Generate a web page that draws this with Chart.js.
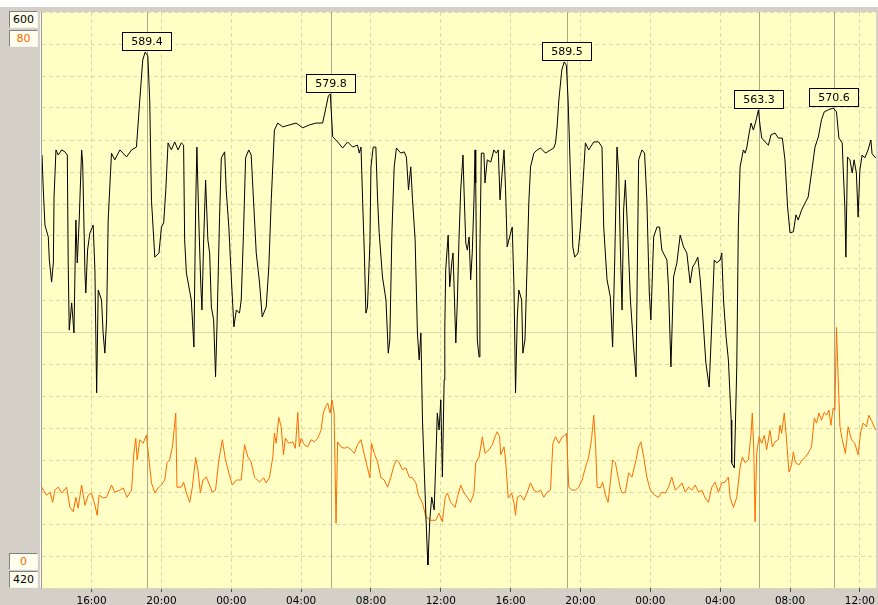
<!DOCTYPE html>
<html>
<head>
<meta charset="utf-8">
<script src="https://cdn.jsdelivr.net/npm/chart.js@4/dist/chart.umd.min.js"></script>
<style>
  body { margin: 0; width: 878px; height: 605px; overflow: hidden; position: relative; background: #D4D0C8; font-family: 'DejaVu Sans', sans-serif; }
  #topStrip { position: absolute; left: 0; top: 0; width: 878px; height: 7px; background: #fff; }
  #c { position: absolute; left: 0; top: 0; }
  .axisBox { position: absolute; left: 9px; width: 27px; height: 15px; line-height: 15px; font-size: 11px; text-align: center;
             background: #FFFFEE; border: 1px solid; border-color: #808080 #F4F4F4 #F4F4F4 #808080; }
  .black { color: #000; }
  .orange { color: #FF6600; }
</style>
</head>
<body>
<div id="topStrip"></div>
<canvas id="c" width="878" height="605"></canvas>
<div class="axisBox black" style="top:11px">600</div>
<div class="axisBox orange" style="top:30px">80</div>
<div class="axisBox orange" style="top:553px">0</div>
<div class="axisBox black" style="top:571px">420</div>
<script>
// time in hours from midnight of day 1
const xTicks = [16, 20, 24, 28, 32, 36, 40, 44, 48, 52, 56, 60];

const blackTime = [13.16,13.23,13.33,13.52,13.58,13.71,13.81,13.85,13.96,14.09,14.29,14.47,14.61,14.66,14.72,14.86,14.99,15.10,15.18,15.29,15.43,15.49,15.62,15.67,15.77,15.90,16.09,16.19,16.29,16.38,16.57,16.66,16.76,16.86,16.95,17.14,17.33,17.62,18.00,18.29,18.57,18.76,18.93,19.07,19.22,19.33,19.43,19.62,19.86,20.00,20.13,20.25,20.38,20.57,20.76,20.95,21.14,21.27,21.33,21.43,21.71,21.86,21.96,22.03,22.15,22.25,22.32,22.42,22.53,22.66,22.76,22.86,22.99,23.10,23.18,23.33,23.43,23.62,23.71,23.86,24.00,24.15,24.29,24.47,24.57,24.70,24.82,25.00,25.14,25.43,25.62,25.77,26.00,26.15,26.29,26.47,26.66,26.95,27.33,27.71,28.09,28.47,28.86,29.23,29.43,29.56,29.67,29.81,30.09,30.38,30.66,30.95,31.23,31.33,31.43,31.52,31.62,31.71,31.80,31.94,32.00,32.13,32.28,32.38,32.47,32.66,32.86,32.99,33.08,33.20,33.33,33.46,33.71,33.90,34.03,34.15,34.28,34.38,34.53,34.66,34.76,34.86,34.95,35.14,35.23,35.26,35.37,35.48,35.62,35.71,35.80,35.90,36.00,36.09,36.19,36.23,36.28,36.42,36.51,36.63,36.70,36.86,36.95,37.04,37.14,37.27,37.33,37.43,37.52,37.62,37.71,37.80,37.90,37.96,38.00,38.09,38.19,38.24,38.32,38.47,38.53,38.66,38.86,39.04,39.18,39.29,39.39,39.48,39.62,39.71,39.80,39.94,40.09,40.19,40.28,40.38,40.47,40.63,40.70,40.82,40.95,41.04,41.14,41.33,41.52,41.71,42.00,42.28,42.47,42.57,42.66,42.76,42.93,43.07,43.19,43.29,43.43,43.56,43.67,43.86,44.00,44.13,44.28,44.47,44.76,45.04,45.23,45.33,45.52,45.71,45.84,45.96,46.09,46.19,46.28,46.38,46.47,46.57,46.72,46.86,47.04,47.18,47.33,47.52,47.67,47.80,47.94,48.03,48.19,48.38,48.53,48.66,48.95,49.04,49.18,49.33,49.52,49.71,49.90,50.09,50.28,50.42,50.57,50.72,50.86,50.99,51.18,51.37,51.52,51.66,51.80,52.00,52.09,52.19,52.34,52.47,52.63,52.66,52.81,52.86,52.95,53.04,53.14,53.33,53.43,53.52,53.66,53.77,53.90,54.03,54.19,54.28,54.38,54.57,54.76,54.91,55.14,55.33,55.56,55.71,55.86,56.00,56.19,56.34,56.47,56.66,56.86,57.04,57.23,57.43,57.62,57.80,57.96,58.19,58.47,58.66,58.80,58.99,59.04,59.14,59.20,59.29,59.43,59.56,59.67,59.80,59.90,60.00,60.13,60.28,60.47,60.63,60.70,60.91];
const blackValue = [555.3,545.0,533.4,529.7,522.5,515.6,521.6,542.2,556.9,555.3,556.9,556.3,555.3,521.6,500.6,509.1,499.7,535.0,521.6,535.0,556.9,552.8,518.4,512.2,525.6,530.9,533.4,519.4,481.0,513.1,510.0,499.7,493.4,503.8,535.0,555.9,553.8,556.9,554.7,556.9,557.8,572.5,585.0,587.5,586.3,572.5,541.2,523.4,524.7,532.8,534.1,544.4,559.1,556.9,559.4,556.9,559.1,558.4,528.8,518.4,510.0,495.3,539.1,557.8,532.8,515.3,506.9,528.8,547.5,528.8,524.7,507.8,503.8,486.0,501.6,536.0,554.4,556.3,544.4,532.8,517.2,501.6,506.9,505.9,510.0,531.0,554.4,556.9,555.3,524.7,515.3,504.7,507.8,520.3,541.3,563.1,565.3,564.1,564.7,565.3,563.8,564.7,565.3,565.3,570.3,573.8,574.4,561.0,559.4,557.5,559.4,557.8,558.4,555.9,557.8,541.3,524.7,505.9,507.8,527.8,551.6,557.8,557.8,541.3,531.0,517.2,510.0,493.4,497.5,531.0,551.6,557.5,555.9,556.3,554.7,544.4,551.6,541.3,528.8,499.7,491.3,499.7,472.5,443.4,430.9,427.2,441.3,448.4,444.4,459.1,474.7,469.4,478.8,454.7,485.0,501.6,519.4,530.3,514.1,521.6,524.7,496.6,510.0,528.8,544.4,555.3,544.4,527.8,525.6,529.7,516.3,524.7,541.3,556.9,546.6,497.5,492.2,525.6,555.9,555.9,546.6,553.8,553.1,556.9,555.9,556.9,541.3,547.5,556.9,544.4,526.6,529.7,532.8,514.1,481.0,504.7,513.1,510.0,493.4,497.5,522.5,540.3,551.6,555.9,556.9,557.5,555.9,556.9,557.5,559.1,564.1,572.5,581.9,584.4,583.4,572.5,548.4,526.6,523.4,524.7,532.8,545.3,559.1,556.9,559.4,559.4,557.8,532.8,516.3,510.9,495.3,522.5,557.8,549.7,526.6,506.9,538.1,547.5,528.8,510.0,495.3,486.0,553.8,556.9,555.9,541.3,512.2,503.8,529.7,532.8,532.8,525.6,522.5,514.1,489.1,517.2,521.6,530.3,526.6,524.7,515.3,520.3,521.6,523.4,516.3,505.9,490.3,482.8,502.8,522.5,521.6,522.5,524.7,510.0,498.4,491.3,472.5,459.1,457.5,468.4,489.1,532.8,551.6,556.9,555.9,557.5,562.2,565.3,563.1,565.6,569.4,564.7,560.6,559.4,558.4,561.6,562.2,560.6,560.6,553.8,539.1,531.0,531.3,536.6,535.0,538.1,540.3,542.2,549.7,557.8,560.9,566.3,568.8,569.4,570.0,568.8,560.6,559.1,551.6,539.1,523.4,554.7,553.8,549.7,553.8,549.7,535.9,550.6,555.3,554.4,556.9,560.0,555.7,554.4];

const orangeTime = [13.16,13.23,13.43,13.62,13.77,13.90,14.09,14.29,14.57,14.76,14.95,15.10,15.23,15.43,15.62,15.81,16.00,16.19,16.32,16.43,16.66,16.86,17.14,17.33,17.62,17.81,18.03,18.29,18.42,18.53,18.61,18.76,18.95,19.14,19.29,19.43,19.62,19.81,20.00,20.19,20.32,20.47,20.63,20.82,20.89,21.14,21.27,21.43,21.62,21.77,21.96,22.09,22.23,22.38,22.57,22.76,22.91,23.10,23.29,23.49,23.67,23.86,24.06,24.29,24.57,24.76,24.95,25.14,25.33,25.62,25.85,26.00,26.19,26.38,26.47,26.57,26.72,26.86,26.99,27.10,27.29,27.52,27.67,27.81,27.90,28.00,28.19,28.38,28.57,28.76,28.95,29.14,29.27,29.39,29.52,29.66,29.77,29.89,30.00,30.09,30.28,30.47,30.66,30.86,31.05,31.23,31.43,31.62,31.80,31.94,32.03,32.19,32.38,32.57,32.76,32.95,33.14,33.33,33.46,33.62,33.80,34.00,34.19,34.38,34.57,34.72,34.95,35.14,35.43,35.71,35.90,36.09,36.25,36.38,36.57,36.82,36.95,37.14,37.33,37.52,37.71,37.90,38.00,38.19,38.38,38.53,38.76,38.95,39.10,39.23,39.37,39.43,39.62,39.71,39.86,40.06,40.19,40.28,40.38,40.57,40.76,40.95,41.14,41.33,41.52,41.71,41.90,42.09,42.28,42.42,42.57,42.76,42.95,43.10,43.20,43.33,43.52,43.71,43.90,44.09,44.28,44.47,44.63,44.76,44.86,44.95,45.14,45.27,45.43,45.58,45.71,45.84,46.00,46.15,46.28,46.38,46.57,46.76,46.95,47.18,47.33,47.46,47.62,47.80,48.00,48.24,48.47,48.66,48.86,49.04,49.23,49.43,49.62,49.81,50.00,50.19,50.38,50.57,50.76,50.95,51.14,51.33,51.52,51.71,51.90,52.09,52.28,52.47,52.57,52.76,52.95,53.14,53.27,53.43,53.62,53.77,53.84,53.92,54.00,54.09,54.23,54.38,54.53,54.66,54.85,54.99,55.14,55.33,55.43,55.52,55.67,55.80,55.94,56.09,56.19,56.32,56.51,56.70,56.89,57.08,57.23,57.39,57.52,57.66,57.80,57.96,58.09,58.23,58.34,58.47,58.57,58.66,58.76,58.86,58.99,59.17,59.33,59.52,59.71,59.90,60.05,60.19,60.38,60.51,60.66,60.85,60.93];
const orangeValue = [14.0,13.6,12.9,13.3,11.9,13.6,14.0,13.2,14.0,11.2,10.6,12.6,11.1,14.3,11.5,12.9,13.2,11.5,10.1,12.9,12.5,12.6,14.3,13.3,13.6,13.9,12.6,13.6,18.7,20.8,17.8,20.6,20.1,21.2,17.8,14.6,13.2,13.9,14.3,15.0,17.4,17.8,19.6,24.3,14.0,14.0,14.7,13.2,11.9,14.0,18.1,16.4,13.2,15.0,15.4,14.3,13.3,13.6,17.8,20.6,17.8,16.0,14.3,15.0,15.0,19.9,18.2,17.5,15.4,14.7,15.3,14.6,15.4,18.2,21.5,20.1,23.7,22.4,18.5,20.8,20.1,20.3,19.4,24.4,19.6,20.8,19.9,19.6,20.6,20.3,20.8,21.9,24.3,25.1,25.7,24.3,26.1,24.3,9.0,20.3,19.6,19.4,19.6,19.2,18.7,19.9,20.6,18.5,16.7,15.3,20.1,18.7,17.5,15.3,15.0,14.0,15.4,17.1,17.8,17.4,16.4,16.7,15.4,15.3,14.6,12.9,11.8,9.9,9.4,9.4,10.4,9.2,12.6,13.2,11.9,11.2,12.6,14.3,13.2,12.6,11.9,13.2,17.4,18.2,21.0,18.7,19.2,19.9,21.0,21.7,21.0,18.5,19.6,17.8,12.5,13.2,11.8,10.1,12.6,12.9,12.2,13.3,14.6,13.6,13.3,13.6,12.6,13.3,13.6,20.1,21.0,20.1,21.0,21.2,21.5,14.0,13.6,13.6,14.0,15.0,16.7,18.2,20.6,24.0,20.1,14.0,13.9,14.7,12.9,11.9,14.7,17.8,17.4,15.4,13.9,13.2,13.3,16.0,15.4,17.8,19.6,20.3,18.2,15.4,13.6,12.9,12.6,13.3,13.2,14.0,15.4,13.6,14.0,14.6,13.3,14.0,13.6,14.3,13.3,13.6,12.5,11.9,14.0,14.7,13.3,14.6,14.7,15.4,12.6,11.2,12.6,16.8,18.2,17.4,17.8,21.5,24.3,19.6,9.2,18.7,21.0,20.1,21.2,19.2,21.9,19.6,20.3,20.6,22.6,21.5,24.3,20.6,16.1,17.1,18.9,17.4,17.1,17.8,18.2,18.9,19.6,23.6,22.9,24.3,23.3,24.4,24.0,24.7,22.6,25.0,24.7,36.2,28.9,22.4,20.6,18.7,22.4,20.6,20.1,18.5,21.7,22.9,22.4,24.0,23.3,22.2,21.9];

const peakTime = [19.18, 29.71, 43.23, 54.24, 58.49];
const peakLabel = ['589.4', '579.8', '589.5', '563.3', '570.6'];

const plotBg = '#FFFFC6';
const gridColor = '#DEDAA6';

const decor = {
  id: 'decor',
  beforeDraw(chart) {
    const { ctx, chartArea: a } = chart;
    ctx.save();
    ctx.fillStyle = plotBg;
    ctx.fillRect(a.left, a.top, a.right - a.left, a.bottom - a.top);
    ctx.fillStyle = '#F6F6F2';
    ctx.fillRect(a.left - 2, a.top, 1, a.bottom - a.top);
    ctx.fillStyle = '#9C9C94';
    ctx.fillRect(a.left - 1, a.top, 1, a.bottom - a.top + 1);
    ctx.restore();
  },
  beforeDatasetsDraw(chart) {
    const { ctx, chartArea: a, scales } = chart;
    ctx.save();
    ctx.lineWidth = 1;
    // reference level
    const y500 = Math.round(scales.y.getPixelForValue(500)) + 0.5;
    ctx.strokeStyle = '#DCD8AC';
    ctx.beginPath();
    ctx.moveTo(a.left, y500);
    ctx.lineTo(a.right, y500);
    ctx.stroke();
    // peak markers
    ctx.strokeStyle = '#ACA88C';
    peakTime.forEach(t => {
      const x = Math.round(scales.x.getPixelForValue(t)) + 0.5;
      ctx.beginPath();
      ctx.moveTo(x, a.top);
      ctx.lineTo(x, a.bottom);
      ctx.stroke();
    });
    ctx.restore();
  },
  afterDatasetsDraw(chart) {
    const { ctx, scales } = chart;
    ctx.save();
    ctx.font = '11px "DejaVu Sans"';
    ctx.textAlign = 'center';
    ctx.textBaseline = 'middle';
    peakTime.forEach((t, i) => {
      let top = -Infinity;
      blackTime.forEach((bt, j) => {
        if (Math.abs(bt - t) < 0.35 && blackValue[j] > top) top = blackValue[j];
      });
      const x = Math.round(scales.x.getPixelForValue(t));
      const yb = Math.round(scales.y.getPixelForValue(top)) - 1;
      const w = 50, h = 19;
      ctx.fillStyle = plotBg;
      ctx.fillRect(x - w / 2, yb - h, w, h);
      ctx.strokeStyle = '#000';
      ctx.lineWidth = 1;
      ctx.strokeRect(x - w / 2 + 0.5, yb - h + 0.5, w - 1, h - 1);
      ctx.fillStyle = '#000';
      ctx.fillText(peakLabel[i], x, yb - h / 2 + 0.5);
    });
    ctx.restore();
  }
};

Chart.defaults.font.family = '"DejaVu Sans", sans-serif';

new Chart(document.getElementById('c'), {
  type: 'line',
  data: {
    datasets: [
      {
        label: 'black',
        data: blackTime.map((t, i) => ({ x: t, y: blackValue[i] })),
        borderColor: '#000',
        borderWidth: 1,
        pointRadius: 0,
        tension: 0,
        yAxisID: 'y'
      },
      {
        label: 'orange',
        data: orangeTime.map((t, i) => ({ x: t, y: orangeValue[i] })),
        borderColor: '#FF6A00',
        borderWidth: 1,
        pointRadius: 0,
        tension: 0,
        yAxisID: 'y1'
      }
    ]
  },
  options: {
    responsive: false,
    animation: false,
    events: [],
    layout: { padding: { left: 42, top: 12, right: 0, bottom: 0 } },
    plugins: { legend: { display: false }, tooltip: { enabled: false } },
    scales: {
      x: {
        type: 'linear',
        min: 13.16,
        max: 60.93,
        afterBuildTicks: s => { s.ticks = xTicks.map(v => ({ value: v })); },
        afterFit: s => { s.height = 17; },
        grid: { color: gridColor, tickColor: '#505050', tickLength: 4 },
        border: { display: false, dash: [4, 3] },
        ticks: {
          autoSkip: false,
          maxRotation: 0,
          padding: 3,
          color: '#000',
          font: { size: 10.5 },
          callback: v => String(v % 24).padStart(2, '0') + ':00'
        }
      },
      y: {
        position: 'left',
        min: 420,
        max: 600,
        afterFit: s => { s.width = 0; },
        ticks: { display: false, stepSize: 10 },
        grid: { color: gridColor, drawTicks: false },
        border: { display: false, dash: [4, 3] }
      },
      y1: {
        display: false,
        min: 0,
        max: 80
      }
    }
  },
  plugins: [decor]
});
</script>
</body>
</html>
